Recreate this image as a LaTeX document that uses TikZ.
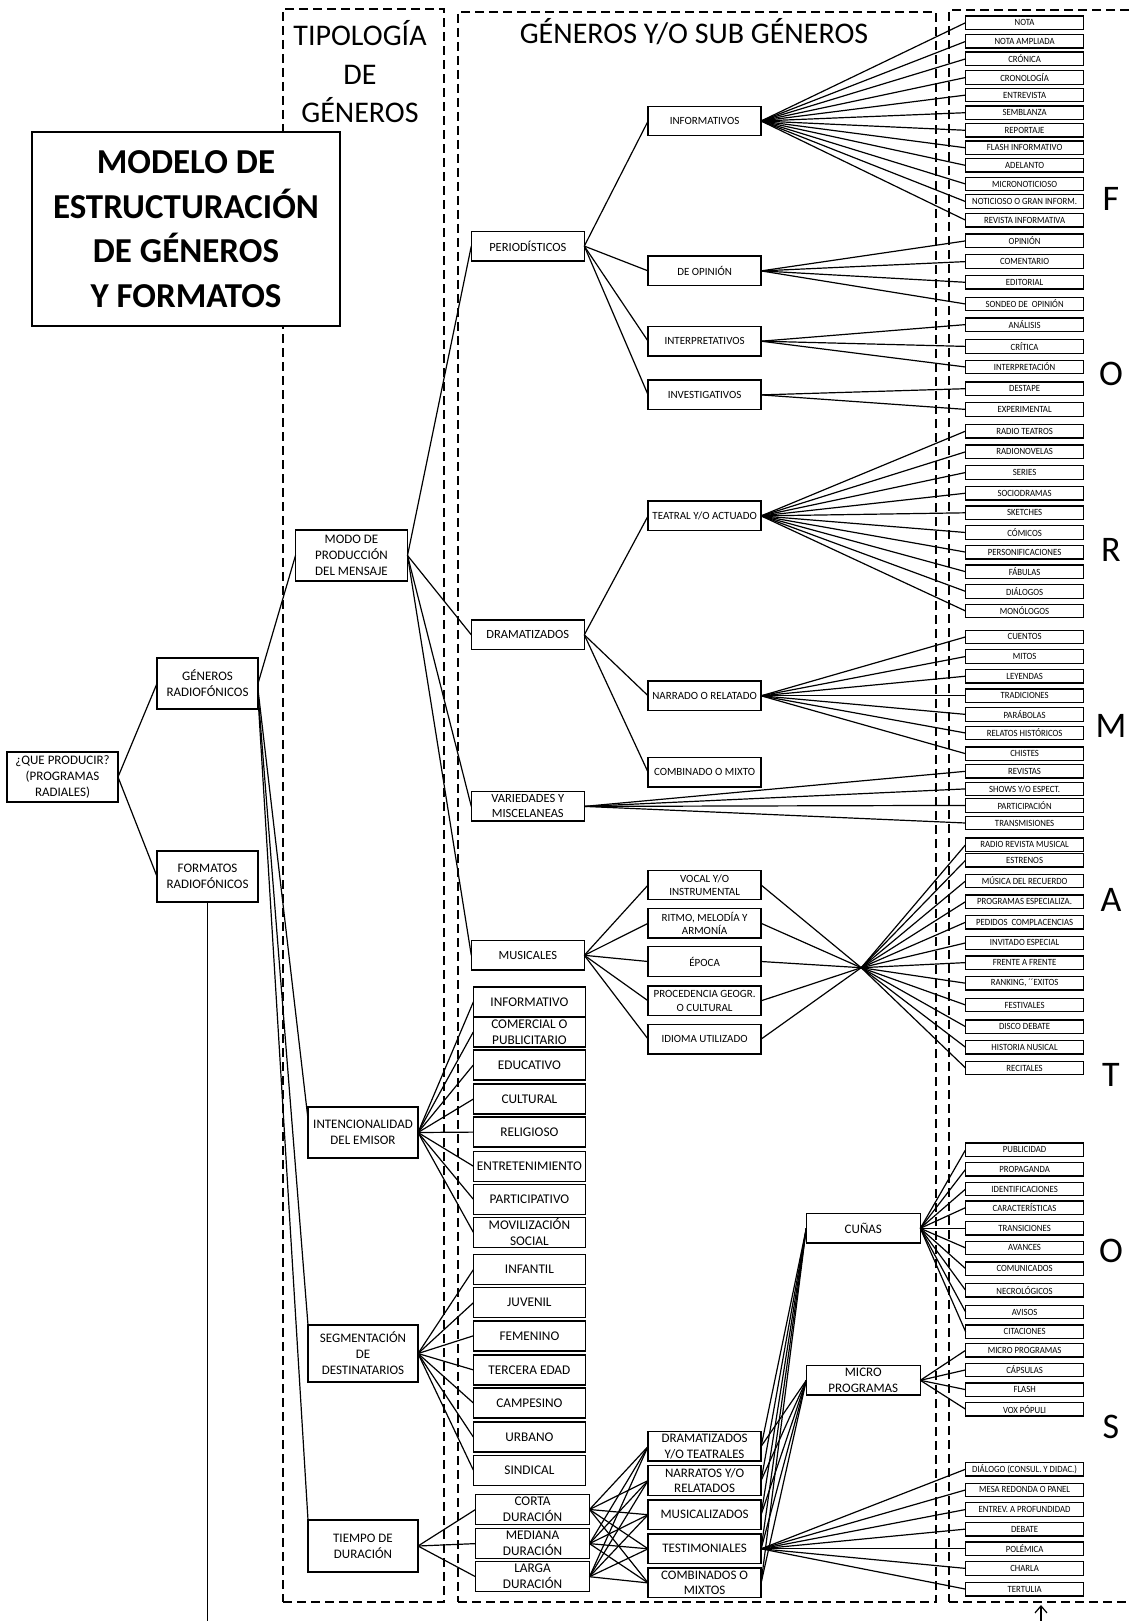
\documentclass[tikz,border=0pt]{standalone}
\usepackage{fontspec}
\setmainfont{Carlito}
\newfontfamily\condf[FakeStretch=0.92]{Carlito}
\usetikzlibrary{arrows.meta,calc}
\begin{document}
\begin{tikzpicture}[x=1pt,y=-1pt,
  every node/.style={inner sep=0pt,outer sep=0pt,align=center},
  bx/.style={draw,line width=1.4pt,fill=white},
  zone/.style={draw,line width=1.5pt,dash pattern=on 9pt off 5pt},
  ttl/.style={bx,minimum width=308pt,minimum height=194pt,font=\fontsize{35}{44.5}\selectfont\bfseries},
  hdr/.style={font=\fontsize{30}{38.5}\selectfont},
  big/.style={font=\fontsize{36}{36}\selectfont},
  lb/.style={bx,font=\fontsize{13}{16}\selectfont},
  cA/.style={bx,minimum width=113pt,minimum height=29.5pt,font=\fontsize{12.5}{15}\selectfont},
  cB/.style={bx,minimum width=112pt,minimum height=30pt,font=\fontsize{13.3}{16}\selectfont},
  cC/.style={bx,minimum width=113pt,minimum height=29.5pt,font=\fontsize{11}{13.5}\selectfont},
  cD/.style={bx,minimum width=113pt,minimum height=29.5pt,font=\fontsize{13}{15.5}\selectfont},
  cE/.style={bx,minimum width=114pt,minimum height=29.5pt,font=\fontsize{13}{16}\selectfont},
  fmt/.style={bx,line width=1.3pt,minimum width=118pt,minimum height=13.5pt,font=\condf\fontsize{9.5}{10}\selectfont},
  cn/.style={line width=1.2pt}
]
\fill[white] (0,0) rectangle (1129,1621);
\useasboundingbox (0,0) rectangle (1129,1621);

% zones
\node[zone,minimum width=161pt,minimum height=1593pt] (zone1) at (363.5,805.5) {};
\node[zone,minimum width=478pt,minimum height=1590pt] (zone2) at (697,807) {};
\node[zone,minimum width=260pt,minimum height=1592pt] (zone3) at (1079,806) {};

% headers
\node[hdr] (tip) at (360,72) {TIPOLOGÍA\\DE\\GÉNEROS};
\node[hdr] (gsg) at (694,32) {GÉNEROS Y/O SUB GÉNEROS};
\node[ttl] (title) at (186,229) {MODELO DE\\ESTRUCTURACIÓN\\DE GÉNEROS\\Y FORMATOS};

% big letters
\foreach \n/\y/\t in {L1/198.5/F,L2/374/O,L3/550/R,L4/726/M,L5/899.5/A,L6/1075/T,L7/1251/O,L8/1427/S}
  \node[big] (\n) at (1111,\y) {\t};

% left column
\node[lb,minimum width=111pt,minimum height=50pt] (que) at (62.5,777) {¿QUE PRODUCIR?\\(PROGRAMAS\\RADIALES)};
\node[lb,minimum width=101pt,minimum height=51pt] (gen) at (207.5,683.5) {GÉNEROS\\RADIOFÓNICOS};
\node[lb,minimum width=101pt,minimum height=51pt] (form) at (207.5,876.5) {FORMATOS\\RADIOFÓNICOS};
\node[lb,minimum width=112pt,minimum height=51pt] (modo) at (351.5,555.5) {MODO DE\\PRODUCCIÓN\\DEL MENSAJE};
\node[lb,minimum width=110pt,minimum height=51pt] (intenc) at (363,1132.5) {INTENCIONALIDAD\\DEL EMISOR};
\node[lb,minimum width=110pt,minimum height=57pt] (segm) at (363,1353.5) {SEGMENTACIÓN\\DE\\DESTINATARIOS};
\node[lb,minimum width=110pt,minimum height=52pt] (tiempo) at (363,1546) {TIEMPO DE\\DURACIÓN};

% column 1 of zone 2
\node[cA] (per) at (527.8,246.1) {PERIODÍSTICOS};
\node[cA] (dra) at (527.8,634.8) {DRAMATIZADOS};
\node[cA] (var) at (527.8,806.4) {VARIEDADES Y\\MISCELANEAS};
\node[cA] (mus) at (527.8,955.3) {MUSICALES};

\node[cB] (inf) at (529.4,1001.8) {INFORMATIVO};
\node[cB] (com) at (529.4,1031.8) {COMERCIAL O\\PUBLICITARIO};
\node[cB] (edu) at (529.4,1064.9) {EDUCATIVO};
\node[cB] (cul) at (529.4,1099.0) {CULTURAL};
\node[cB] (rel) at (529.4,1132.1) {RELIGIOSO};
\node[cB] (ent) at (529.4,1166.2) {ENTRETENIMIENTO};
\node[cB] (par) at (529.4,1199.3) {PARTICIPATIVO};
\node[cB] (mov) at (529.4,1232.4) {MOVILIZACIÓN\\SOCIAL};
\node[cB] (infa) at (529.4,1269.6) {INFANTIL};
\node[cB] (juv) at (529.4,1302.7) {JUVENIL};
\node[cB] (fem) at (529.4,1335.8) {FEMENINO};
\node[cB] (ter) at (529.4,1369.9) {TERCERA EDAD};
\node[cB] (cam) at (529.4,1403.0) {CAMPESINO};
\node[cB] (urb) at (529.4,1437.1) {URBANO};
\node[cB] (sin) at (529.4,1470.2) {SINDICAL};
\node[cB,minimum width=114pt] (cor) at (532.5,1509.5) {CORTA\\DURACIÓN};
\node[cB,minimum width=114pt] (med) at (532.5,1543.6) {MEDIANA\\DURACIÓN};
\node[cB,minimum width=114pt] (lar) at (532.5,1576.7) {LARGA\\DURACIÓN};

% column 2 of zone 2
\node[cC] (info) at (704.6,121.0) {INFORMATIVOS};
\node[cC] (opi) at (704.6,270.9) {DE OPINIÓN};
\node[cC] (intp) at (704.6,341.2) {INTERPRETATIVOS};
\node[cC] (inv) at (704.6,394.9) {INVESTIGATIVOS};
\node[cC] (tea) at (704.6,515.9) {TEATRAL Y/O ACTUADO};
\node[cC] (nar) at (704.6,695.8) {NARRADO O RELATADO};
\node[cC] (cmb) at (704.6,772.3) {COMBINADO O MIXTO};
\node[cC] (voc) at (704.6,885.0) {VOCAL Y/O\\INSTRUMENTAL};
\node[cC] (rit) at (704.6,923.3) {RITMO, MELODÍA Y\\ARMONÍA};
\node[cC] (epo) at (704.6,961.5) {ÉPOCA};
\node[cC] (pro) at (704.6,1000.8) {PROCEDENCIA GEOGR.\\O CULTURAL};
\node[cC] (idi) at (704.6,1039.1) {IDIOMA UTILIZADO};

\node[cD] (bdr) at (704.6,1446.4) {DRAMATIZADOS\\Y/O TEATRALES};
\node[cD] (bnr) at (704.6,1480.5) {NARRATOS Y/O\\RELATADOS};
\node[cD] (bmu) at (704.6,1514.7) {MUSICALIZADOS};
\node[cD] (bte) at (704.6,1548.8) {TESTIMONIALES};
\node[cD] (bco) at (704.6,1582.9) {COMBINADOS O\\MIXTOS};

% column 3 of zone 2
\node[cE] (cun) at (863.3,1228.3) {CUÑAS};
\node[cE] (mic) at (863.3,1380.3) {MICRO\\PROGRAMAS};
\coordinate (hub) at (861.2,967.7);

% format items
\foreach \n/\y/\t in {
 a1/22.7/NOTA, a2/41.4/NOTA AMPLIADA, a3/58.9/CRÓNICA, a4/77.5/CRONOLOGÍA,
 a5/95.1/ENTREVISTA, a6/112.7/SEMBLANZA, a7/130.3/REPORTAJE, a8/147.8/FLASH INFORMATIVO,
 a9/165.4/ADELANTO, a10/184.0/MICRONOTICIOSO, a11/201.6/NOTICIOSO O GRAN INFORM., a12/220.2/REVISTA INFORMATIVA,
 b1/240.9/OPINIÓN, b2/261.6/COMENTARIO, b3/282.3/EDITORIAL, b4/304.0/SONDEO DE~ OPINIÓN,
 c1/324.6/ANÁLISIS, c2/346.4/CRÍTICA, c3/367.0/INTERPRETACIÓN,
 d1/388.7/DESTAPE, d2/409.4/EXPERIMENTAL,
 e1/431.1/RADIO TEATROS, e2/451.8/RADIONOVELAS, e3/472.5/SERIES, e4/493.2/SOCIODRAMAS,
 e5/512.8/SKETCHES, e6/532.5/CÓMICOS, e7/552.1/PERSONIFICACIONES, e8/571.7/FÁBULAS,
 e9/591.4/DIÁLOGOS, e10/611.0/MONÓLOGOS,
 g1/636.9/CUENTOS, g2/656.5/MITOS, g3/676.2/LEYENDAS, g4/695.8/TRADICIONES,
 g5/714.4/PARÁBOLAS, g6/733.0/RELATOS HISTÓRICOS, g7/753.7/CHISTES,
 h1/771.3/REVISTAS, h2/788.9/{SHOWS Y/O ESPECT.}, h3/805.4/PARTICIPACIÓN, h4/823.0/TRANSMISIONES,
 k1/844.7/RADIO REVISTA MUSICAL, k2/860.2/ESTRENOS, k3/880.9/MÚSICA DEL RECUERDO,
 k4/901.6/PROGRAMAS ESPECIALIZA., k5/922.2/PEDIDOS~ COMPLACENCIAS, k6/942.9/INVITADO ESPECIAL,
 k7/962.6/FRENTE A FRENTE, k8/983.2/{RANKING, ´´EXITOS}, k9/1005.0/FESTIVALES,
 k10/1026.7/DISCO DEBATE, k11/1047.3/HISTORIA NUSICAL, k12/1068.0/RECITALES,
 m1/1149.7/PUBLICIDAD, m2/1169.3/PROPAGANDA, m3/1189.0/IDENTIFICACIONES, m4/1207.6/CARACTERÍSTICAS,
 m5/1228.3/TRANSICIONES, m6/1247.9/AVANCES, m7/1268.6/COMUNICADOS, m8/1290.3/NECROLÓGICOS,
 m9/1312.0/AVISOS, m10/1331.7/CITACIONES,
 p1/1350.3/MICRO PROGRAMAS, p2/1369.9/CÁPSULAS, p3/1389.6/FLASH, p4/1409.2/VOX PÓPULI,
 q1/1469.2/DIÁLOGO (CONSUL. Y DIDAC.), q2/1489.9/MESA REDONDA O PANEL, q3/1509.5/ENTREV. A PROFUNDIDAD,
 q4/1529.1/DEBATE, q5/1548.8/POLÉMICA, q6/1568.4/CHARLA, q7/1589.1/TERTULIA}
  \node[fmt] (\n) at (1024.6,\y) {\t};

% connectors
\draw[cn] (que.east) -- (gen.west);
\draw[cn] (que.east) -- (form.west);
\draw[cn] (gen.east) -- (modo.west);
\draw[cn] ($(gen.east)+(0,6)$) -- ($(intenc.north west)+(0,12)$);
\draw[cn] ($(gen.east)+(0,10)$) -- (segm.north west);
\draw[cn] ($(gen.east)+(0,14)$) -- (tiempo.north west);

\foreach \b in {per,dra,var,mus} \draw[cn] (modo.east) -- (\b.west);
\foreach \b in {info,opi,intp,inv} \draw[cn] (per.east) -- (\b.west);
\foreach \b in {tea,nar,cmb} \draw[cn] (dra.east) -- (\b.west);
\foreach \b in {voc,rit,epo,pro,idi} {\draw[cn] (mus.east) -- (\b.west); \draw[cn] (\b.east) -- (hub);}
\foreach \b in {inf,com,edu,cul,rel,ent,par,mov} \draw[cn] (intenc.east) -- (\b.west);
\foreach \b in {infa,juv,fem,ter,cam,urb,sin} \draw[cn] (segm.east) -- (\b.west);
\foreach \b in {cor,med,lar} \draw[cn] (tiempo.east) -- (\b.west);
\foreach \d in {cor,med,lar} \foreach \b in {bdr,bnr,bmu,bte,bco} \draw[cn] (\d.east) -- (\b.west);
\foreach \b in {bdr,bnr,bmu,bte,bco} {\draw[cn] (\b.east) -- (cun.west); \draw[cn] (\b.east) -- (mic.west);}

\foreach \i in {1,...,12} \draw[cn] (info.east) -- (a\i.west);
\foreach \i in {1,...,4} \draw[cn] (opi.east) -- (b\i.west);
\foreach \i in {1,...,3} \draw[cn] (intp.east) -- (c\i.west);
\foreach \i in {1,2} \draw[cn] (inv.east) -- (d\i.west);
\foreach \i in {1,...,10} \draw[cn] (tea.east) -- (e\i.west);
\foreach \i in {1,...,7} \draw[cn] (nar.east) -- (g\i.west);
\foreach \i in {1,...,4} \draw[cn] (var.east) -- (h\i.west);
\foreach \i in {1,...,12} \draw[cn] (hub) -- (k\i.west);
\foreach \i in {1,...,10} \draw[cn] (cun.east) -- (m\i.west);
\foreach \i in {1,...,4} \draw[cn] (mic.east) -- (p\i.west);
\foreach \i in {1,...,7} \draw[cn] (bte.east) -- (q\i.west);

% bottom lines
\coordinate (fbot) at (207.5,1621);
\draw[cn] (form.south) -- (fbot);
\coordinate (abot) at (1041,1621);
\coordinate (atop) at (1041,1605);
\draw[cn,-{Straight Barb[length=7pt,width=12pt]}] (abot) -- (atop);
\end{tikzpicture}
\end{document}
